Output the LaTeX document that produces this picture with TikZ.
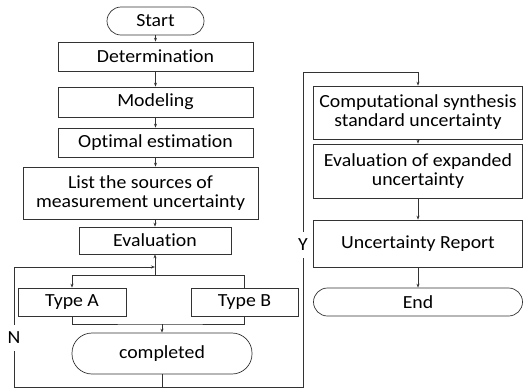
\documentclass[tikz,border=0pt]{standalone}
\usepackage{fontspec}
\setmainfont{Carlito}[FakeStretch=1.07, Ligatures=NoCommon, RawFeature={-clig;-calt}]
\usetikzlibrary{arrows.meta}

\begin{document}
\begin{tikzpicture}[x=1pt, y=-1pt, line width=0.7pt, draw=black!80,
    font=\fontsize{18.5}{19}\selectfont,
    box/.style={draw, inner sep=0pt, align=center},
    term/.style={box, rounded corners=14pt},
    arr/.style={-{Stealth[length=4pt,width=3pt]}},
    tag/.style={fill=white, inner xsep=1pt, inner ysep=7pt}]
    \useasboundingbox (0,0) rectangle (524,389);

    % left column
    \node[term, minimum width=97, minimum height=28] (start) at (155.5,21) {Start};
    \node[box, minimum width=195, minimum height=29] (det) at (155.5,56.5) {Determination};
    \node[box, minimum width=195, minimum height=30] (model) at (155.5,102) {Modeling};
    \node[box, minimum width=195, minimum height=29] (optim) at (155.5,142.5) {Optimal estimation};
    \node[box, minimum width=235, minimum height=52] (src) at (140.5,193) {List the sources of\\measurement uncertainty};
    \node[box, minimum width=152, minimum height=27] (eval) at (155,240.5) {Evaluation};
    \node[box, minimum width=108, minimum height=28] (typea) at (72,302) {Type A};
    \node[box, minimum width=107, minimum height=28] (typeb) at (244.5,302) {Type B};
    \node[term, rounded corners=20pt, minimum width=180, minimum height=41] (done) at (162,353.5) {completed};

    % right column
    \node[box, minimum width=209, minimum height=53] (synth) at (418,112.5) {Computational synthesis\\standard uncertainty};
    \node[box, minimum width=209, minimum height=54] (expand) at (418,171) {Evaluation of expanded\\uncertainty};
    \node[box, minimum width=209, minimum height=47] (report) at (418,243.5) {Uncertainty Report};
    \node[term, minimum width=209, minimum height=28] (end) at (418,302) {End};

    \coordinate (split) at (155,275);
    \coordinate (merge) at (162,324);
    \coordinate (base) at (162,387.5);
    \coordinate (nback) at (14,267);
    \coordinate (yup) at (303,72);

    % main flow
    \draw[arr] (start) -- (det);
    \draw[arr] (det) -- (model);
    \draw[arr] (model) -- (optim);
    \draw[arr] (optim) -- (optim.south |- src.north);
    \draw[arr] (src.south -| eval) -- (eval);
    \draw[arr] (split) -- (eval);
    \draw[arr] (split) -| (typea);
    \draw (split) -| (typeb);
    \draw (typea) |- (merge) -| (typeb);
    \draw[arr] (merge) -- (done);
    \draw (done) -- (base);

    % back to evaluation (N) or on to synthesis (Y)
    \draw[arr] (base) -| (nback) -- (split |- nback);
    \draw[arr] (base) -| (yup) -| (synth);
    \node[tag] (no) at (14,338) {N};
    \node[tag] (yes) at (303,245) {Y};

    \draw[arr] (synth) -- (expand);
    \draw[arr] (expand) -- (report);
    \draw[arr] (report) -- (end);
\end{tikzpicture}
\end{document}
